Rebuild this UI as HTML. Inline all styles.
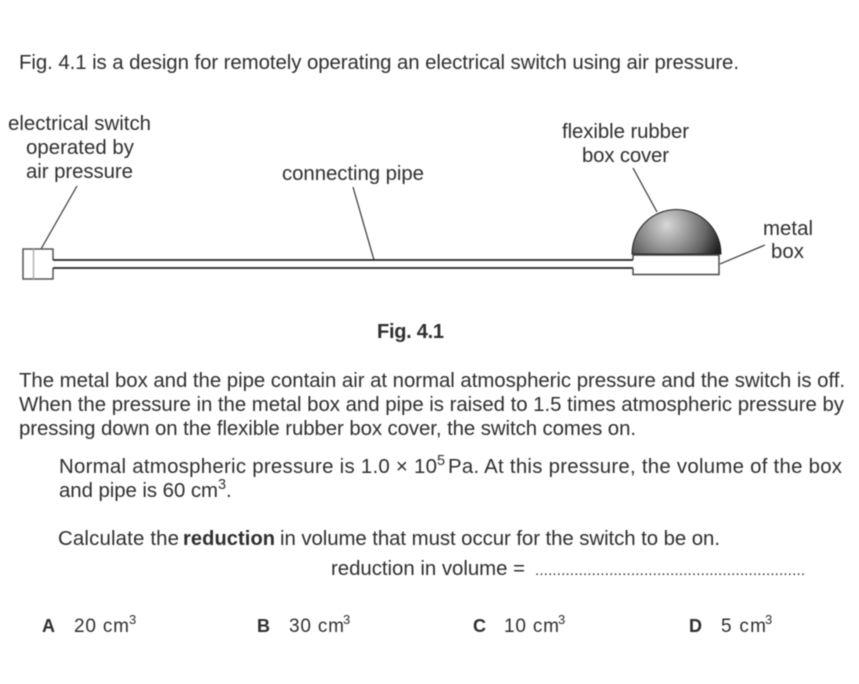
<!DOCTYPE html>
<html>
<head>
<meta charset="utf-8">
<style>
html,body{margin:0;padding:0;background:#fff;width:859px;height:684px;overflow:hidden}
svg{display:block;filter:blur(0.4px)}
text{font-family:"Liberation Sans",sans-serif;font-size:20.4px;fill:#2e2e2e}
.o{font-size:19px}
.ob{font-size:18px;font-weight:bold}
.b{font-weight:bold;font-size:20px}
.s{font-size:13px}
.sup{font-size:14.5px}
</style>
</head>
<body>
<svg width="859" height="684" viewBox="0 0 859 684" xmlns="http://www.w3.org/2000/svg">
<defs>
<radialGradient id="d" gradientUnits="userSpaceOnUse" cx="667" cy="225" r="56">
<stop offset="0" stop-color="#d8d8d8"/>
<stop offset="0.3" stop-color="#a8a8a8"/>
<stop offset="0.7" stop-color="#666"/>
<stop offset="1" stop-color="#222"/>
</radialGradient>
</defs>

<text x="19" y="69" textLength="720" lengthAdjust="spacing">Fig. 4.1 is a design for remotely operating an electrical switch using air pressure.</text>

<text x="8" y="130" textLength="143" lengthAdjust="spacing">electrical switch</text>
<text x="26" y="154" textLength="108" lengthAdjust="spacing">operated by</text>
<text x="26" y="178" textLength="107" lengthAdjust="spacing">air pressure</text>
<text x="282" y="180" textLength="142" lengthAdjust="spacing">connecting pipe</text>
<text x="562" y="138" textLength="127" lengthAdjust="spacing">flexible rubber</text>
<text x="582" y="162" textLength="87" lengthAdjust="spacing">box cover</text>
<text x="763" y="235" textLength="50" lengthAdjust="spacing">metal</text>
<text x="771" y="258" textLength="33" lengthAdjust="spacing">box</text>

<g fill="none" stroke="#333" stroke-width="1.2">
<line x1="77" y1="186" x2="41" y2="249"/>
<line x1="353" y1="187" x2="374" y2="260"/>
<line x1="633" y1="168" x2="657" y2="212"/>
<line x1="765" y1="245" x2="720" y2="264"/>
</g>

<path d="M53 260V249H23V279H53V268" fill="#fff" stroke="#555" stroke-width="1.5"/>
<line x1="33.500" y1="249" x2="33.500" y2="279" stroke="#b0b0b0" stroke-width="1.5"/>
<line x1="53" y1="260" x2="634" y2="260" stroke="#222" stroke-width="1.7"/>
<line x1="53" y1="268" x2="634" y2="268" stroke="#222" stroke-width="1.7"/>

<path d="M632 254A44.500 44.500 0 0 1 721 254Z" fill="url(#d)" stroke="#222" stroke-width="1"/>
<path d="M633 260V255H719V274.500H633V268" fill="#fff" stroke="#444" stroke-width="1.4"/>

<text x="377" y="338" class="b" textLength="67" lengthAdjust="spacing">Fig. 4.1</text>

<text x="19" y="387" textLength="826" lengthAdjust="spacing">The metal box and the pipe contain air at normal atmospheric pressure and the switch is off.</text>
<text x="19" y="411" textLength="825" lengthAdjust="spacing">When the pressure in the metal box and pipe is raised to 1.5 times atmospheric pressure by</text>
<text x="19" y="435" textLength="617" lengthAdjust="spacing">pressing down on the flexible rubber box cover, the switch comes on.</text>

<text x="59" y="473" textLength="378" lengthAdjust="spacing">Normal atmospheric pressure is 1.0 × 10</text>
<text x="437" y="465" class="sup">5</text>
<text x="448" y="473" textLength="394" lengthAdjust="spacing">Pa. At this pressure, the volume of the box</text>
<text x="59" y="497" textLength="159" lengthAdjust="spacing">and pipe is 60 cm</text>
<text x="218" y="489" class="sup">3</text>
<text x="226" y="497">.</text>

<text x="58" y="545" textLength="121" lengthAdjust="spacing">Calculate the</text>
<text x="183" y="545" class="b" textLength="92" lengthAdjust="spacing">reduction</text>
<text x="280" y="545" textLength="440" lengthAdjust="spacing">in volume that must occur for the switch to be on.</text>

<text x="331" y="575" textLength="194" lengthAdjust="spacing">reduction in volume =</text>
<text x="535" y="575" textLength="270" lengthAdjust="spacing" style="font-size:15px">..............................................................</text>

<text x="42" y="632" class="ob">A</text>
<text x="74" y="632" class="o" textLength="55" lengthAdjust="spacing">20 cm</text>
<text x="129" y="624" class="s">3</text>
<text x="257" y="632" class="ob">B</text>
<text x="289" y="632" class="o" textLength="55" lengthAdjust="spacing">30 cm</text>
<text x="343" y="624" class="s">3</text>
<text x="473" y="632" class="ob">C</text>
<text x="504" y="632" class="o" textLength="55" lengthAdjust="spacing">10 cm</text>
<text x="558" y="624" class="s">3</text>
<text x="689" y="632" class="ob">D</text>
<text x="721" y="632" class="o" textLength="45" lengthAdjust="spacing">5 cm</text>
<text x="765" y="624" class="s">3</text>
</svg>
</body>
</html>
